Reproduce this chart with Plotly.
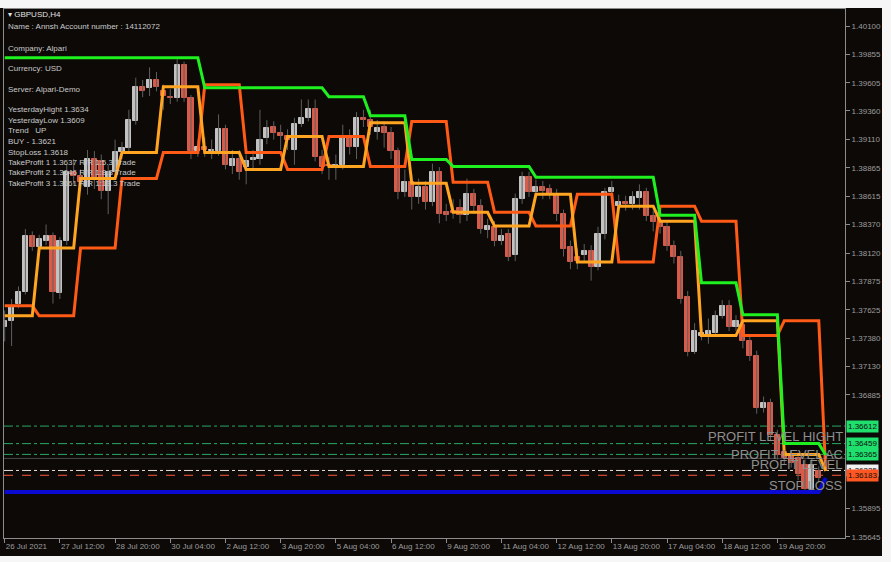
import plotly.graph_objects as go

# ---------------- data (GBPUSD H4) ----------------
bar_index = list(range(119))

open_ = [
    1.3748, 1.3753, 1.3768, 1.3778, 1.3827, 1.3817, 1.3823, 1.3827, 1.3777, 1.3823,
    1.3883, 1.3879, 1.3870, 1.3894, 1.3892, 1.3866, 1.3883, 1.3900, 1.3904, 1.3927,
    1.3957, 1.3956, 1.3963, 1.3953, 1.3948, 1.3947, 1.3976, 1.3947, 1.3901, 1.3905,
    1.3901, 1.3901, 1.3920, 1.3888, 1.3894, 1.3887, 1.3893, 1.3894, 1.3912, 1.3922,
    1.3917, 1.3914, 1.3902, 1.3925, 1.3930, 1.3938, 1.3896, 1.3889, 1.3888, 1.3889,
    1.3913, 1.3905, 1.3930, 1.3928, 1.3918, 1.3922, 1.3917, 1.3901, 1.3865, 1.3874,
    1.3861, 1.3870, 1.3857, 1.3883, 1.3848, 1.3849, 1.3851, 1.3845, 1.3864, 1.3853,
    1.3832, 1.3835, 1.3823, 1.3829, 1.3810, 1.3859, 1.3878, 1.3865, 1.3870, 1.3868,
    1.3863, 1.3846, 1.3817, 1.3809, 1.3810, 1.3814, 1.3800, 1.3829, 1.3865, 1.3853,
    1.3857, 1.3855, 1.3860, 1.3865, 1.3844, 1.3839, 1.3835, 1.3818, 1.3809, 1.3774,
    1.3726, 1.3740, 1.3741, 1.3742, 1.3757, 1.3766, 1.3748, 1.3749, 1.3735, 1.3722,
    1.3677, 1.3681, 1.3653, 1.3639, 1.3635, 1.3633, 1.3627, 1.3606, 1.3622,
]
close = [
    1.3753, 1.3766, 1.3778, 1.3827, 1.3817, 1.3824, 1.3827, 1.3778, 1.3823, 1.3883,
    1.3879, 1.3874, 1.3894, 1.3876, 1.3866, 1.3883, 1.3900, 1.3904, 1.3928, 1.3957,
    1.3953, 1.3963, 1.3957, 1.3949, 1.3947, 1.3976, 1.3947, 1.3901, 1.3905, 1.3902,
    1.3902, 1.3920, 1.3889, 1.3894, 1.3883, 1.3892, 1.3895, 1.3911, 1.3921, 1.3917,
    1.3914, 1.3911, 1.3925, 1.3930, 1.3938, 1.3896, 1.3887, 1.3888, 1.3889, 1.3913,
    1.3905, 1.3930, 1.3928, 1.3922, 1.3921, 1.3917, 1.3901, 1.3865, 1.3874, 1.3861,
    1.3870, 1.3857, 1.3883, 1.3846, 1.3845, 1.3847, 1.3845, 1.3864, 1.3853, 1.3833,
    1.3836, 1.3823, 1.3827, 1.3809, 1.3859, 1.3878, 1.3865, 1.3870, 1.3866, 1.3863,
    1.3846, 1.3816, 1.3804, 1.3805, 1.3814, 1.3800, 1.3829, 1.3865, 1.3869, 1.3857,
    1.3855, 1.3861, 1.3865, 1.3844, 1.3839, 1.3835, 1.3818, 1.3809, 1.3772, 1.3726,
    1.3744, 1.3742, 1.3744, 1.3757, 1.3766, 1.3748, 1.3753, 1.3735, 1.3722, 1.3677,
    1.3681, 1.3653, 1.3636, 1.3633, 1.3629, 1.3619, 1.3606, 1.3627, 1.3616,
]
high = [
    1.3762, 1.3772, 1.3783, 1.3833, 1.3831, 1.3828, 1.3837, 1.3830, 1.3826, 1.3889,
    1.3894, 1.3885, 1.3902, 1.3901, 1.3898, 1.3889, 1.3911, 1.3909, 1.3937, 1.3965,
    1.3963, 1.3974, 1.3970, 1.3959, 1.3955, 1.3981, 1.3979, 1.3950, 1.3911, 1.3913,
    1.3911, 1.3933, 1.3924, 1.3902, 1.3902, 1.3898, 1.3902, 1.3937, 1.3928, 1.3927,
    1.3924, 1.3920, 1.3930, 1.3946, 1.3946, 1.3946, 1.3902, 1.3896, 1.3898, 1.3924,
    1.3920, 1.3935, 1.3937, 1.3937, 1.3928, 1.3927, 1.3922, 1.3904, 1.3885, 1.3881,
    1.3877, 1.3875, 1.3890, 1.3887, 1.3855, 1.3859, 1.3859, 1.3877, 1.3868, 1.3859,
    1.3842, 1.3840, 1.3833, 1.3833, 1.3864, 1.3883, 1.3883, 1.3876, 1.3875, 1.3872,
    1.3868, 1.3850, 1.3823, 1.3816, 1.3820, 1.3819, 1.3835, 1.3869, 1.3875, 1.3863,
    1.3862, 1.3866, 1.3872, 1.3869, 1.3849, 1.3843, 1.3840, 1.3823, 1.3814, 1.3779,
    1.3751, 1.3751, 1.3755, 1.3762, 1.3771, 1.3771, 1.3758, 1.3755, 1.3739, 1.3727,
    1.3687, 1.3685, 1.3658, 1.3644, 1.3640, 1.3638, 1.3632, 1.3633, 1.3626,
]
low = [
    1.3735, 1.3731, 1.3764, 1.3776, 1.3814, 1.3810, 1.3819, 1.3768, 1.3772, 1.3819,
    1.3872, 1.3866, 1.3863, 1.3868, 1.3859, 1.3846, 1.3876, 1.3894, 1.3901, 1.3924,
    1.3948, 1.3949, 1.3953, 1.3937, 1.3942, 1.3944, 1.3944, 1.3894, 1.3896, 1.3896,
    1.3894, 1.3897, 1.3885, 1.3881, 1.3876, 1.3872, 1.3885, 1.3889, 1.3907, 1.3911,
    1.3902, 1.3902, 1.3889, 1.3922, 1.3927, 1.3892, 1.3881, 1.3876, 1.3876, 1.3885,
    1.3898, 1.3894, 1.3922, 1.3915, 1.3911, 1.3904, 1.3894, 1.3859, 1.3861, 1.3850,
    1.3855, 1.3850, 1.3853, 1.3838, 1.3840, 1.3842, 1.3838, 1.3840, 1.3846, 1.3829,
    1.3825, 1.3818, 1.3819, 1.3805, 1.3805, 1.3855, 1.3861, 1.3861, 1.3859, 1.3859,
    1.3840, 1.3809, 1.3798, 1.3798, 1.3805, 1.3788, 1.3797, 1.3824, 1.3861, 1.3849,
    1.3849, 1.3850, 1.3850, 1.3840, 1.3831, 1.3829, 1.3814, 1.3803, 1.3768, 1.3722,
    1.3724, 1.3736, 1.3733, 1.3739, 1.3755, 1.3744, 1.3744, 1.3729, 1.3718, 1.3672,
    1.3673, 1.3649, 1.3632, 1.3628, 1.3625, 1.3614, 1.3603, 1.3603, 1.3612,
]

# daily step indicator levels (one value per trading day; day_start = first bar of each day)
day_start = [0, 5, 11, 17, 23, 29, 35, 41, 47, 53, 59, 65, 71, 77, 83, 89, 95, 101, 107, 113, 119]
green_daily = [1.39823, 1.39823, 1.39823, 1.39823, 1.39823, 1.39562, 1.39562, 1.39562, 1.39484,
               1.39319, 1.38937, 1.38876, 1.38876, 1.38781, 1.38781, 1.38781, 1.38451, 1.37861,
               1.37583, 1.36459, 1.36359]
orange_daily = [1.37574, 1.38165, 1.38772, 1.38998, 1.39571, 1.38998, 1.38850, 1.39137, 1.38876,
                1.39258, 1.38729, 1.38477, 1.38356, 1.38633, 1.38043, 1.38529, 1.38399, 1.37401,
                1.37531, 1.36365, 1.36220]
orangered_daily = [1.37661, 1.37574, 1.38165, 1.38772, 1.38998, 1.39588, 1.38998, 1.38850, 1.39137,
                   1.38876, 1.39267, 1.38738, 1.38477, 1.38356, 1.38633, 1.38043, 1.38529, 1.38399,
                   1.37401, 1.37531, 1.36220]
blue_daily = [1.36038, 1.36038, 1.36038, 1.36038, 1.36038, 1.36038, 1.36038, 1.36038, 1.36038,
              1.36038, 1.36038, 1.36038, 1.36038, 1.36038, 1.36038, 1.36038, 1.36038, 1.36038,
              1.36038, 1.36038, 1.36160]

# horizontal trade levels
tp3_level = 1.36612
tp2_level = 1.36459
tp1_level = 1.36365
ask_level = 1.36330
buy_level = 1.36225
sl_level = 1.36183

x_tick_idx = [0, 8, 16, 24, 32, 40, 48, 56, 64, 72, 80, 88, 96, 104, 112]
x_tick_text = ["26 Jul 2021", "27 Jul 12:00", "28 Jul 20:00", "30 Jul 04:00", "2 Aug 12:00",
               "3 Aug 20:00", "5 Aug 04:00", "6 Aug 12:00", "9 Aug 20:00", "11 Aug 04:00",
               "12 Aug 12:00", "13 Aug 20:00", "17 Aug 04:00", "18 Aug 12:00", "19 Aug 20:00"]
y_tick_vals = [1.40100, 1.39855, 1.39605, 1.39360, 1.39110, 1.38865, 1.38615, 1.38370, 1.38120,
               1.37875, 1.37625, 1.37380, 1.37130, 1.36885, 1.35895, 1.35645]

info_lines = [
    ("▾ GBPUSD,H4", 15),
    ("Name : Annsh Account number : 14112072", 27),
    ("Company: Alpari", 48),
    ("Currency: USD", 69),
    ("Server: Alpari-Demo", 89),
    ("YesterdayHight 1.3634", 109),
    ("YesterdayLow 1.3609", 120),
    ("Trend   UP", 130),
    ("BUY - 1.3621", 141),
    ("StopLoss 1.3618", 152),
    ("TakeProfit 1 1.3637 R/R 1:5.3 Trade", 162),
    ("TakeProfit 2 1.3646 R/R 1:8.3 Trade", 172),
    ("TakeProfit 3 1.3661 R/R 1:13.3 Trade", 183),
]

# ---------------- styling ----------------
W, H = 891, 562
ML, MR, MT, MB = 4, 46, 9, 24
PW, PH = W - ML - MR, H - MT - MB
BG = "#0c0907"
BULL = "#c2c2c2"
BEAR = "#d85a48"
WICK = "#5f5f5f"
AXC = "#8c8c8c"
FONT = "Liberation Sans, Arial, sans-serif"


def px_x(xp):
    return (xp - ML) / PW


def px_y(yp):
    return (H - MB - yp) / PH


def expand(daily):
    xs, ys = [], []
    for k, s in enumerate(day_start):
        e = day_start[k + 1] if k + 1 < len(day_start) else s + 1
        for i in range(s, e):
            xs.append(i)
            ys.append(daily[k])
    return xs, ys


fig = go.Figure()

# wicks
wx, wy = [], []
for i, lo, hi in zip(bar_index, low, high):
    wx += [i, i, None]
    wy += [lo, hi, None]
fig.add_trace(go.Scatter(x=wx, y=wy, mode="lines", line=dict(color=WICK, width=1),
                         hoverinfo="skip", showlegend=False))

# bodies
colors = [BULL if c >= o else BEAR for o, c in zip(open_, close)]
bases = [min(o, c) for o, c in zip(open_, close)]
heights = [abs(c - o) for o, c in zip(open_, close)]
fig.add_trace(go.Bar(x=bar_index, y=heights, base=bases, width=0.74,
                     marker=dict(color=colors, line=dict(color=colors, width=1)),
                     hoverinfo="skip", showlegend=False))

# indicator step lines
for daily, col, wdt in [(blue_daily, "#0a0ad2", 4), (orangered_daily, "#ff5a16", 3),
                        (orange_daily, "#ffa521", 3), (green_daily, "#1ff01f", 3)]:
    xs, ys = expand(daily)
    fig.add_trace(go.Scatter(x=xs, y=ys, mode="lines",
                             line=dict(color=col, width=wdt, shape="linear"),
                             hoverinfo="skip", showlegend=False))

shapes = [
    dict(type="rect", xref="paper", yref="paper", x0=px_x(0), x1=px_x(882), y0=px_y(556), y1=px_y(8),
         fillcolor=BG, line=dict(width=0), layer="below"),
]
for lvl, col, dash in [(tp3_level, "#2aa866", "dashdot"), (tp2_level, "#2aa866", "dashdot"),
                       (tp1_level, "#2aa866", "dashdot"), (ask_level, "#4a4a4a", "solid"),
                       (buy_level, "#e9dede", "dashdot"), (sl_level, "#ff5a3c", "dash")]:
    shapes.append(dict(type="line", xref="paper", yref="y", x0=0, x1=1, y0=lvl, y1=lvl,
                       line=dict(color=col, width=1, dash=dash), layer="below"))

annotations = []
for txt, yp in info_lines:
    annotations.append(dict(text=txt, xref="paper", yref="paper", x=px_x(6), y=px_y(yp),
                            xanchor="left", yanchor="middle", showarrow=False,
                            font=dict(family=FONT, size=8,
                                      color="#e2e2e2" if "GBPUSD" in txt else "#c9c9c9")))

for txt, lvl in [("PROFIT LEVEL HIGHT", tp3_level), ("PROFIT LEVEL AC", tp2_level),
                 ("PROFIT LEVEL", tp1_level), ("STOP LOSS", sl_level)]:
    annotations.append(dict(text=txt, xref="paper", yref="y", x=1, y=lvl, xanchor="right",
                            yanchor="top", showarrow=False, yshift=-1,
                            font=dict(family=FONT, size=13, color="#8f8f8f")))

for lvl, bg in [(tp3_level, "#1fe06c"), (tp2_level, "#1fe06c"), (tp1_level, "#1fe06c"),
                (buy_level, "#f2f2f2"), (sl_level, "#ff5722")]:
    annotations.append(dict(text=f"{lvl:.5f}", xref="paper", yref="y", x=1, y=lvl,
                            xanchor="left", yanchor="middle", xshift=1, showarrow=False,
                            bgcolor=bg, borderpad=1,
                            font=dict(family=FONT, size=8, color="#101010")))

fig.update_layout(
    width=W, height=H,
    margin=dict(l=ML, r=MR, t=MT, b=MB, pad=0, autoexpand=False),
    paper_bgcolor="#f6f6f6",
    plot_bgcolor=BG,
    shapes=shapes,
    annotations=annotations,
    showlegend=False,
    bargap=0,
    xaxis=dict(range=[-0.1, 121.8], showgrid=False, zeroline=False, showline=True,
               linecolor=AXC, linewidth=1, mirror=True, ticks="outside", ticklen=4,
               tickcolor=AXC, tickvals=x_tick_idx, ticktext=x_tick_text, tickangle=0,
               automargin=False, ticklabelposition="outside right",
               tickfont=dict(family=FONT, size=8, color="#9c9c9c"), fixedrange=True),
    yaxis=dict(range=[1.35636, 1.40249], side="right", showgrid=False, zeroline=False,
               showline=True, linecolor=AXC, linewidth=1, mirror=True, ticks="outside",
               ticklen=4, tickcolor=AXC, tickvals=y_tick_vals, automargin=False,
               ticktext=[f"{v:.5f}" for v in y_tick_vals],
               tickfont=dict(family=FONT, size=8, color="#9c9c9c"), fixedrange=True),
)

fig.write_html(
    "out.html",
    config={"displayModeBar": False},
    post_script="document.body.style.margin='0';document.body.style.padding='0';"
                "document.body.style.overflow='hidden';",
)
